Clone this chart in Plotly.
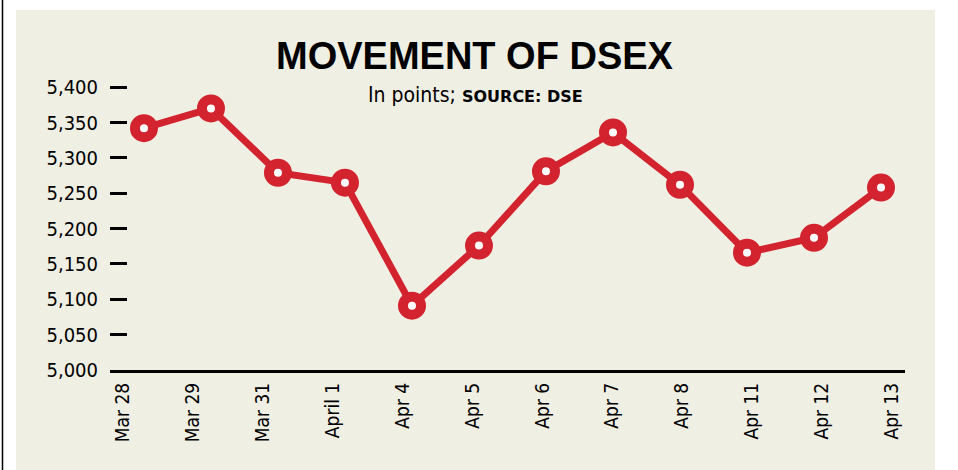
import plotly.graph_objects as go

dates = ["Mar 28", "Mar 29", "Mar 31", "April 1", "Apr 4", "Apr 5", "Apr 6",
         "Apr 7", "Apr 8", "Apr 11", "Apr 12", "Apr 13"]
dsex = [5342, 5370, 5279, 5265, 5091, 5176, 5281, 5336, 5262, 5166, 5187, 5258]
y_ticks = [5000, 5050, 5100, 5150, 5200, 5250, 5300, 5350, 5400]

RED = "#D3232E"
BEIGE = "#F0EFE4"
NARROW = "Liberation Sans Narrow, DejaVu Sans Condensed, Arial Narrow, sans-serif"

W, H = 958, 470
L, R, T, B = 110, 53, 20, 100
PW, PH = W - L - R, H - T - B


def px(x):
    return (x - L) / PW


def py(y):
    return (H - B - y) / PH


fig = go.Figure()
fig.add_trace(go.Scatter(
    x=dates, y=dsex, mode="lines+markers",
    line=dict(color=RED, width=7),
    marker=dict(size=18, color="white", line=dict(color=RED, width=10)),
    cliponaxis=False, hoverinfo="x+y", showlegend=False,
))
# invisible trace carrying the category labels on the label axis
fig.add_trace(go.Scatter(
    x=dates, y=dsex, xaxis="x2", mode="none", hoverinfo="skip", showlegend=False,
))

y_top = 5000 + PH / 0.707

fig.update_layout(
    width=W, height=H,
    margin=dict(l=L, r=R, t=T, b=B, pad=0),
    paper_bgcolor="white",
    plot_bgcolor="rgba(0,0,0,0)",
    xaxis=dict(
        type="category", range=[-0.507, 11.358],
        showticklabels=False, ticks="", showgrid=False, zeroline=False,
        showline=True, linecolor="black", linewidth=3,
    ),
    xaxis2=dict(
        type="category", overlaying="x", side="bottom",
        range=[-0.186, 11.188], showgrid=False, zeroline=False, showline=False,
        ticks="", tickangle=-90, ticklabelstandoff=8,
        tickfont=dict(family=NARROW, size=19, color="black"),
    ),
    yaxis=dict(
        range=[5000, y_top], tickvals=y_ticks, tickformat=",",
        ticks="inside", ticklen=17, tickwidth=3, tickcolor="black",
        showgrid=False, zeroline=False, showline=False,
        ticklabelstandoff=11,
        tickfont=dict(family=NARROW, size=20, color="black"),
    ),
    shapes=[
        dict(type="rect", xref="paper", yref="paper", layer="below",
             x0=px(16), x1=px(935), y0=py(10), y1=py(H + 5),
             fillcolor=BEIGE, line=dict(width=0)),
        dict(type="line", xref="paper", yref="paper", layer="below",
             x0=px(2.5), x1=px(2.5), y0=py(-5), y1=py(H + 5),
             line=dict(color="black", width=1.5)),
    ],
    annotations=[
        dict(text="<b>MOVEMENT OF DSEX</b>", xref="paper", yref="paper",
             x=px(475), y=py(56), xanchor="center", yanchor="middle",
             showarrow=False,
             font=dict(family="Liberation Sans, Arial, sans-serif", size=38, color="black")),
        dict(text="In points; <span style='font-family:DejaVu Sans;font-size:16px'><b>SOURCE: DSE</b></span>",
             xref="paper", yref="paper",
             x=px(475), y=py(95), xanchor="center", yanchor="middle",
             showarrow=False,
             font=dict(family=NARROW, size=21, color="black")),
    ],
)

fig.write_html("out.html")
